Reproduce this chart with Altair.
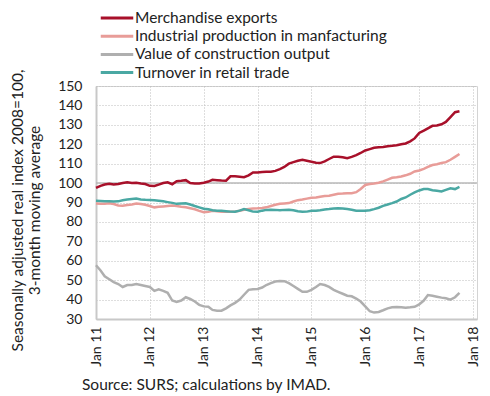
import altair as alt
import pandas as pd

months = pd.date_range("2011-01-01", periods=82, freq="MS")

series_names = [
    "Merchandise exports",
    "Industrial production in manfacturing",
    "Value of construction output",
    "Turnover in retail trade",
]
series_colors = ["#a8102a", "#e89c98", "#afafaf", "#4aa8a3"]

exports = [
    97.5, 98.6, 99.3, 99.7, 99.3, 99.5, 100.0, 100.4, 100.0, 100.2, 99.8, 99.5,
    98.6, 98.5, 99.2, 100.0, 100.4, 99.4, 101.0, 101.2, 101.5, 100.0, 99.8, 99.8,
    100.2, 100.8, 101.7, 101.5, 101.3, 101.2, 103.5, 103.5, 103.3, 103.0, 104.0, 105.5,
    105.5, 105.7, 105.8, 105.8, 106.3, 107.2, 108.3, 110.0, 110.8, 111.5, 112.0, 111.5,
    111.0, 110.5, 110.3, 111.2, 112.4, 113.6, 113.6, 113.3, 112.8, 113.5, 114.4, 115.5,
    116.8, 117.5, 118.2, 118.4, 118.6, 119.0, 119.2, 119.5, 120.0, 120.4, 121.5, 123.0,
    125.8, 127.0, 128.2, 129.5, 129.7, 130.3, 131.5, 134.0, 136.5, 137.0,
]
industry = [
    89.5, 89.3, 89.4, 89.6, 89.2, 88.5, 88.3, 88.7, 89.0, 89.5, 89.2, 88.8,
    88.2, 87.5, 87.8, 88.0, 88.2, 88.4, 88.2, 87.8, 87.5, 87.0, 86.5, 85.7,
    85.0, 85.2, 85.7, 85.5, 85.3, 85.3, 85.2, 85.3, 85.8, 86.3, 86.7, 86.9,
    87.0, 87.2, 87.5, 88.2, 88.8, 89.3, 89.5, 89.7, 90.5, 91.2, 91.5, 92.0,
    92.4, 92.6, 93.0, 93.3, 93.5, 94.0, 94.5, 94.6, 94.8, 94.8, 95.3, 97.0,
    99.0, 99.5, 99.8, 100.2, 100.9, 101.8, 102.7, 103.0, 103.4, 104.0, 104.8, 106.0,
    106.5, 107.3, 108.3, 109.3, 109.7, 110.3, 110.8, 112.0, 113.5, 115.0,
]
construction = [
    57.7, 55.0, 52.0, 50.5, 49.0, 48.0, 46.5, 47.5, 47.5, 48.0, 47.5, 47.0,
    46.5, 44.5, 45.3, 44.5, 43.5, 39.5, 38.8, 39.5, 41.2, 40.3, 39.0, 37.3,
    36.5, 36.3, 34.7, 34.3, 34.3, 35.5, 37.0, 38.3, 40.0, 42.5, 45.0, 45.3,
    45.5, 46.2, 47.5, 48.5, 49.3, 49.6, 49.5, 48.5, 47.0, 45.5, 44.0, 44.0,
    45.0, 46.5, 48.0, 47.5, 46.5, 45.0, 44.0, 43.0, 42.0, 41.7, 40.5, 39.0,
    36.5, 34.0, 33.3, 33.6, 34.5, 35.5, 36.0, 36.2, 36.0, 35.8, 36.0, 36.3,
    37.5, 39.5, 42.3, 42.0, 41.5, 41.0, 40.7, 40.0, 41.2, 43.5,
]
retail = [
    90.9, 90.8, 90.7, 90.6, 90.5, 90.6, 91.2, 91.5, 91.8, 92.0, 91.6, 91.4,
    91.3, 91.2, 90.9, 90.6, 90.2, 89.8, 89.3, 89.5, 89.6, 89.0, 88.2, 87.5,
    86.8, 86.5, 86.0, 85.8, 85.7, 85.5, 85.3, 85.2, 85.8, 86.6, 86.0, 85.3,
    85.2, 85.8, 86.2, 86.3, 86.2, 86.0, 86.2, 86.3, 86.0, 85.5, 85.2, 85.3,
    85.7, 85.8, 86.0, 86.4, 86.6, 86.9, 87.0, 86.9, 86.6, 86.3, 85.8, 85.7,
    85.7, 86.0, 86.6, 87.3, 88.3, 89.0, 89.7, 90.5, 91.8, 92.6, 94.0, 95.2,
    96.2, 96.9, 96.9, 96.3, 96.0, 95.7, 96.5, 97.3, 96.9, 98.0,
]

tick_years = [2011, 2012, 2013, 2014, 2015, 2016, 2017, 2018]
y_ticks = [30, 40, 50, 60, 70, 80, 90, 100, 110, 120, 130, 140, 150]
y_title = ["Seasonally adjusted real index 2008=100,", "3-month moving average"]
source_text = "Source: SURS; calculations by IMAD."

frames = []
for name, vals in zip(series_names, [exports, industry, construction, retail]):
    frames.append(pd.DataFrame({"date": months, "series": name, "value": vals}))
df = pd.concat(frames, ignore_index=True)

FONT = "Lato"
TEXT = "#222222"
y_scale = alt.Scale(domain=[30, 150], zero=False, nice=False)

x_enc = alt.X(
    "date:T",
    scale=alt.Scale(domain=[alt.DateTime(year=2011, month=1, date=1),
                            alt.DateTime(year=2018, month=1, date=28)]),
    axis=alt.Axis(
        values=[alt.DateTime(year=y, month=1, date=1) for y in tick_years],
        format="Jan %y", labelAngle=-90, title=None, ticks=False, tickSize=0,
        labelPadding=7, labelFont=FONT, labelFontSize=14, labelColor=TEXT,
        domainColor="#c8c8c8", domainWidth=2,
        grid=True, gridDash=[1, 2], gridColor="#bdbdbd", gridWidth=1,
    ),
)

y_axis = alt.Axis(
    values=y_ticks, tickCount=13, title=y_title, ticks=False, tickSize=0,
    labelOverlap=False,
    labelPadding=14, labelFont=FONT, labelFontSize=14, labelColor=TEXT,
    titleFont=FONT, titleFontSize=15.5, titleFontWeight="normal", titleColor=TEXT,
    titlePadding=15, titleY=124, domainColor="#c8c8c8", domainWidth=2,
    grid=True, gridDash=[1, 2], gridColor="#bdbdbd", gridWidth=1,
)

lines = alt.Chart(df).mark_line(strokeWidth=2.5).encode(
    x=x_enc,
    y=alt.Y("value:Q", scale=y_scale, axis=y_axis),
    color=alt.Color(
        "series:N",
        scale=alt.Scale(domain=series_names, range=series_colors),
        legend=alt.Legend(
            title=None, orient="none", legendX=13, legendY=-76,
            symbolType="M-2.5,0H2.5", symbolSize=169, symbolStrokeWidth=3,
            labelFont=FONT, labelFontSize=15.5, labelColor=TEXT, labelLimit=0,
            labelOffset=10, rowPadding=1.2, padding=0,
        ),
    ),
)

ref = alt.Chart(pd.DataFrame({"value": [100]})).mark_rule(
    color="#b8b8b8", strokeWidth=1.5
).encode(y=alt.Y("value:Q", scale=y_scale, axis=y_axis))

chart = alt.layer(ref, lines).properties(
    width=381, height=233,
    autosize=alt.AutoSizeParams(type="none"),
    padding={"left": 88, "top": 78, "right": 5, "bottom": 75},
    title=alt.TitleParams(
        text=source_text, orient="bottom", anchor="start", frame="group",
        font=FONT, fontSize=15.5, fontWeight="normal", color=TEXT,
        dx=-14, offset=12,
    ),
).configure_view(stroke="#d4d4d4", strokeWidth=1)

chart.save("out.html", embed_options={"renderer": "svg", "actions": False})
